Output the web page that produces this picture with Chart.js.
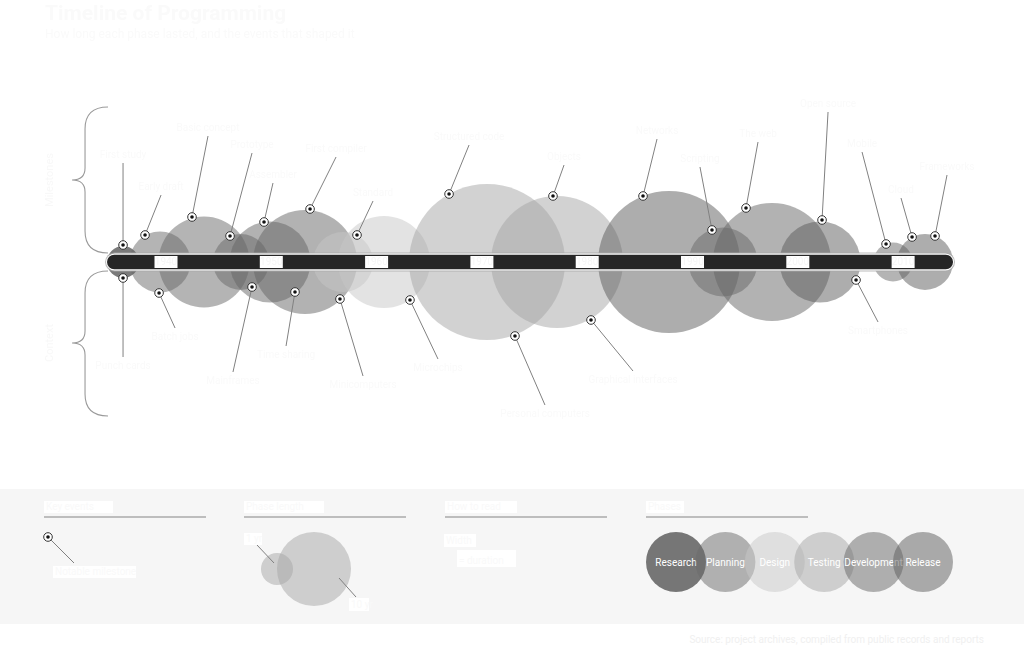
<!DOCTYPE html>
<html lang="en">
<head>
  <meta charset="UTF-8">
  <title>Timeline of Programming</title>
  <script src="https://cdn.jsdelivr.net/npm/chart.js"></script>
  <style>
    html, body { margin: 0; padding: 0; background: #fff; font-family: Roboto, "Open Sans", sans-serif; }
    #wrap { position: relative; width: 1024px; height: 647px; overflow: hidden; }
    #chart { position: absolute; left: 0; top: 0; }
    .title { position: absolute; left: 45px; top: 1px; margin: 0; font-size: 21px; font-weight: bold; line-height: 24px; color: #fafafa; }
    .subtitle { position: absolute; left: 45px; top: 27px; font-size: 12px; color: #fafafa; }
    #panel { position: absolute; left: 0; top: 489px; width: 1024px; height: 135px; background: #f6f6f6; }
    .footer { position: absolute; right: 40px; top: 634px; font-size: 10px; color: #f0f0f0; }
  </style>
</head>
<body>
<div id="wrap">
  <canvas id="chart" width="1024" height="489"></canvas>
  <h1 class="title">Timeline of Programming</h1>
  <div class="subtitle">How long each phase lasted, and the events that shaped it</div>
  <svg id="panel" width="1024" height="135"></svg>
  <div class="footer">Source: project archives, compiled from public records and reports</div>
</div>

<script>
  // decade ticks on the timeline bar
  const tickYears = [1940, 1950, 1960, 1970, 1980, 1990, 2000, 2010];
  const tickLabels = ['1940', '1950', '1960', '1970', '1980', '1990', '2000', '2010'];

  // phase categories (legend)
  const categories = ['Research', 'Planning', 'Design', 'Testing', 'Development', 'Release'];
  const categoryColors = ['rgba(0,0,0,0.52)', 'rgba(105,105,105,0.5)', 'rgba(200,200,200,0.5)',
                          'rgba(165,165,165,0.5)', 'rgba(101,101,101,0.5)', 'rgba(92,92,92,0.5)'];

  // bubbles: centre year, size, category index
  const bubbleYear = [1935.92, 1939.43, 1943.61, 1947.12, 1949.88, 1953.20, 1956.81, 1960.70,
                      1970.49, 1977.13, 1987.77, 1992.90, 1997.55, 2002.11, 2009.04, 2012.08];
  const bubbleSize = [16, 30.5, 45.5, 28, 40.5, 52, 30, 46, 78, 66, 71, 34.5, 59, 40.5, 19.5, 28];
  const bubbleCategory = [0, 1, 1, 1, 4, 4, 2, 2, 3, 3, 5, 1, 4, 5, 1, 5];

  // events: marker (year, offset) and where its label sits
  const eventLabels = ['First study', 'Early draft', 'Basic concept', 'Prototype', 'Assembler',
                       'First compiler', 'Standard', 'Structured code', 'Objects', 'Networks',
                       'Scripting', 'The web', 'Open source', 'Mobile', 'Cloud', 'Frameworks',
                       'Punch cards', 'Batch jobs', 'Mainframes', 'Time sharing', 'Minicomputers',
                       'Microchips', 'Personal computers', 'Graphical interfaces', 'Smartphones'];
  const eventYear = [1935.92, 1938.01, 1942.47, 1946.08, 1949.31, 1953.68, 1958.14, 1966.88,
                     1976.75, 1985.30, 1991.85, 1995.08, 2002.30, 2008.38, 2010.85, 2013.03,
                     1935.92, 1939.34, 1948.17, 1952.25, 1956.52, 1963.17, 1973.14, 1980.36, 2005.53];
  const eventOffset = [17, 27, 45, 26, 40, 53, 27, 68, 66, 66, 32, 54, 42, 18, 25, 26,
                       -16, -31, -25, -30, -37, -38, -74, -58, -18];
  const labelYear = [1935.92, 1939.53, 1943.99, 1948.17, 1950.16, 1956.15, 1959.66, 1968.78,
                     1977.80, 1986.63, 1990.71, 1996.22, 2002.87, 2006.10, 2009.80, 2014.17,
                     1935.92, 1940.86, 1946.36, 1951.40, 1958.71, 1965.83, 1975.99, 1984.35, 2007.62];
  const labelOffset = [99, 67, 126, 109, 79, 105, 61, 117, 97, 123, 95, 120, 150, 110, 64, 87,
                       -95, -66, -110, -84, -114, -97, -143, -109, -60];

  // span of the timeline bar
  const barStart = 1934.40;
  const barEnd = 2014.74;

  const bubbles = bubbleYear.map((yr, i) => ({ x: yr, y: 0, r: bubbleSize[i] }));
  const bubbleColors = bubbleCategory.map(c => categoryColors[c]);
  const eventPoints = eventYear.map((yr, i) => ({ x: yr, y: eventOffset[i] }));

  function roundBar(ctx, x, y, w, h) {
    const r = h / 2;
    ctx.beginPath();
    ctx.moveTo(x + r, y);
    ctx.lineTo(x + w - r, y);
    ctx.arc(x + w - r, y + r, r, -Math.PI / 2, Math.PI / 2);
    ctx.lineTo(x + r, y + h);
    ctx.arc(x + r, y + r, r, Math.PI / 2, Math.PI * 1.5);
    ctx.closePath();
  }

  function brace(ctx, xEnd, xMid, xTip, yTop, yTip, yBot) {
    ctx.beginPath();
    ctx.moveTo(xEnd, yTop);
    ctx.quadraticCurveTo(xMid, yTop, xMid, yTop + 22);
    ctx.lineTo(xMid, yTip - 12);
    ctx.quadraticCurveTo(xMid, yTip, xTip, yTip);
    ctx.quadraticCurveTo(xMid, yTip, xMid, yTip + 12);
    ctx.lineTo(xMid, yBot - 22);
    ctx.quadraticCurveTo(xMid, yBot, xEnd, yBot);
    ctx.stroke();
  }

  const timelinePlugin = {
    id: 'timeline',
    afterDatasetDraw(chart, args) {
      if (args.index !== 2) return;
      const { ctx, scales: { x, y } } = chart;
      const x0 = x.getPixelForValue(barStart);
      const x1 = x.getPixelForValue(barEnd);
      const yc = y.getPixelForValue(0);
      ctx.save();

      // bar with thin white and grey rims
      roundBar(ctx, x0 - 2, yc - 9.5, x1 - x0 + 4, 19);
      ctx.fillStyle = 'rgba(170,170,170,0.8)';
      ctx.fill();
      roundBar(ctx, x0 - 1, yc - 8.6, x1 - x0 + 2, 17.2);
      ctx.fillStyle = '#fff';
      ctx.fill();
      roundBar(ctx, x0, yc - 7.3, x1 - x0, 14.6);
      ctx.fillStyle = 'rgba(14,14,14,0.9)';
      ctx.fill();

      // decade labels
      ctx.font = '10px Roboto, sans-serif';
      ctx.textAlign = 'center';
      ctx.textBaseline = 'middle';
      tickYears.forEach((yr, i) => {
        const px = x.getPixelForValue(yr);
        ctx.fillStyle = '#fff';
        ctx.fillRect(px - 11.5, yc - 6, 23, 12);
        ctx.fillStyle = '#f6f6f6';
        ctx.fillText(tickLabels[i], px, yc + 0.5);
      });

      // leader lines and their labels
      ctx.strokeStyle = '#808080';
      ctx.lineWidth = 1;
      ctx.font = '10px Roboto, sans-serif';
      eventYear.forEach((yr, i) => {
        const ax = x.getPixelForValue(yr), ay = y.getPixelForValue(eventOffset[i]);
        const bx = x.getPixelForValue(labelYear[i]), by = y.getPixelForValue(labelOffset[i]);
        ctx.beginPath();
        ctx.moveTo(ax, ay);
        ctx.lineTo(bx, by);
        ctx.stroke();
        const up = labelOffset[i] > 0;
        ctx.fillStyle = '#fafafa';
        ctx.textBaseline = up ? 'bottom' : 'top';
        ctx.fillText(eventLabels[i], bx, up ? by - 3 : by + 4);
      });

      // braces for events above and below the bar
      ctx.strokeStyle = '#9a9a9a';
      ctx.lineWidth = 1.1;
      brace(ctx, x0 + 1, x0 - 22, x0 - 35, y.getPixelForValue(155), y.getPixelForValue(82), y.getPixelForValue(9));
      brace(ctx, x0 + 1, x0 - 22, x0 - 35, y.getPixelForValue(-9), y.getPixelForValue(-81), y.getPixelForValue(-154));

      ctx.fillStyle = '#f8f8f8';
      ctx.font = '11px Roboto, sans-serif';
      ctx.textBaseline = 'middle';
      [[82, 'Milestones'], [-81, 'Context']].forEach(([off, txt]) => {
        ctx.save();
        ctx.translate(x0 - 57, y.getPixelForValue(off));
        ctx.rotate(-Math.PI / 2);
        ctx.fillText(txt, 0, 0);
        ctx.restore();
      });
      ctx.restore();
    }
  };

  new Chart(document.getElementById('chart'), {
    type: 'bubble',
    data: {
      datasets: [
        { type: 'scatter', label: 'Event dot', data: eventPoints, pointRadius: 1.8,
          pointBackgroundColor: '#111', pointBorderWidth: 0, order: 0 },
        { type: 'scatter', label: 'Event', data: eventPoints, pointRadius: 4.3,
          pointBackgroundColor: '#fff', pointBorderColor: '#333', pointBorderWidth: 1, order: 1 },
        { label: 'Phases', data: bubbles, backgroundColor: bubbleColors, borderWidth: 0, order: 2 }
      ]
    },
    options: {
      responsive: false,
      animation: false,
      events: [],
      layout: { padding: 0, autoPadding: false },
      plugins: { legend: { display: false }, tooltip: { enabled: false } },
      scales: {
        x: { type: 'linear', display: false, min: 1924.236, max: 2021.48 },
        y: { type: 'linear', display: false, min: -227, max: 262 }
      }
    },
    plugins: [timelinePlugin]
  });

  // legend panel under the chart
  const svgNS = 'http://www.w3.org/2000/svg';
  const panel = document.getElementById('panel');
  function el(tag, attrs, text) {
    const e = document.createElementNS(svgNS, tag);
    for (const k in attrs) e.setAttribute(k, attrs[k]);
    if (text) e.textContent = text;
    panel.appendChild(e);
    return e;
  }
  function box(x, y, w, h, txt, size) {
    el('rect', { x, y, width: w, height: h, fill: '#fff' });
    el('text', { x: x + 2, y: y + h - 3, 'font-size': size || 10, fill: '#f9f9f9',
                 'font-family': 'Roboto, sans-serif' }, txt);
  }

  const headings = [['Key events', 44, 69], ['Phase length', 244, 80], ['How to read', 445, 72], ['Phases', 646, 38]];
  headings.forEach(([txt, hx, w]) => {
    box(hx, 12, w, 12, txt, 10);
    el('rect', { x: hx, y: 27, width: 162, height: 2, fill: '#bdbdbd' });
  });

  // key events
  el('line', { x1: 48, y1: 48, x2: 74, y2: 74, stroke: '#808080', 'stroke-width': 1 });
  el('circle', { cx: 48, cy: 48, r: 4.3, fill: '#fff', stroke: '#333', 'stroke-width': 1 });
  el('circle', { cx: 48, cy: 48, r: 1.8, fill: '#111' });
  box(53, 77, 83, 12, 'Notable milestone');

  // phase length
  el('circle', { cx: 277, cy: 80, r: 16, fill: categoryColors[3] });
  el('circle', { cx: 314, cy: 80, r: 37, fill: categoryColors[3] });
  el('line', { x1: 257, y1: 56, x2: 274, y2: 74, stroke: '#808080', 'stroke-width': 1 });
  el('line', { x1: 339, y1: 89, x2: 356, y2: 108, stroke: '#808080', 'stroke-width': 1 });
  box(244, 44, 18, 12, '1 yr');
  box(349, 109, 20, 13, '10 yr');

  // how to read
  box(444, 45, 32, 13, 'Width');
  box(457, 61, 59, 17, '= duration');

  // phase colours
  categories.forEach((c, i) => {
    const cx = 676 + i * 49.4;
    el('circle', { cx, cy: 73, r: 30, fill: categoryColors[i] });
    el('text', { x: cx, y: 77, 'text-anchor': 'middle', 'font-size': 10, fill: '#fff',
                 'font-family': 'Roboto, sans-serif' }, c);
  });
</script>
</body>
</html>
